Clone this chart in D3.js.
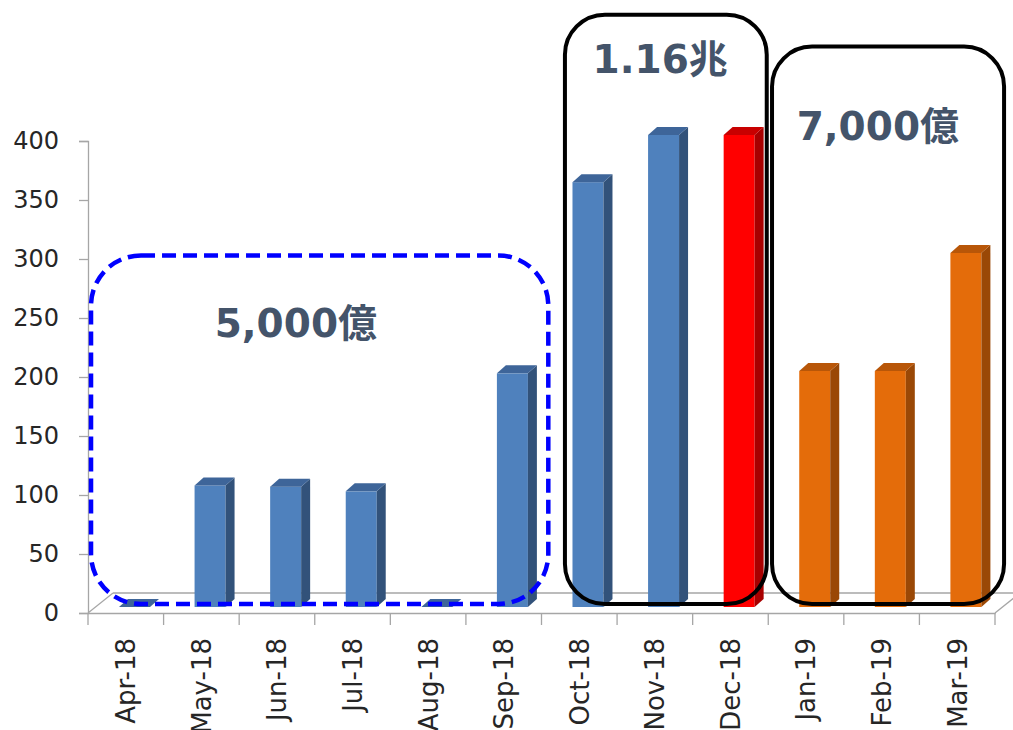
<!DOCTYPE html>
<html>
<head>
<meta charset="utf-8">
<script src="https://cdn.jsdelivr.net/npm/d3@7"></script>
<style>
  html, body { margin: 0; padding: 0; background: #fff; }
  svg { display: block; }
</style>
</head>
<body>
<svg id="chart" width="1013" height="730"></svg>
<script>
// ---- data ----
const categories = ["Apr-18","May-18","Jun-18","Jul-18","Aug-18","Sep-18","Oct-18","Nov-18","Dec-18","Jan-19","Feb-19","Mar-19"];
const values     = [0, 103, 102, 98, 0, 198, 360, 400, 400, 200, 200, 300];
const phases     = ["2018","2018","2018","2018","2018","2018","2018","2018","peak","2019","2019","2019"];
const yTicks     = [0, 50, 100, 150, 200, 250, 300, 350, 400];
const groupLabels = ["5,000億", "1.16兆", "7,000億"];
// group box extents in band units (x) and value units (y)
const groupFrom  = [0.04, 6.31, 9.05];
const groupTo    = [6.09, 8.98, 12.12];
const groupTop   = [303, 507, 480];
const groupLabelX = [2.75, 7.57, 10.45];
const groupLabelY = [234, 458, 401];

// ---- layout ----
const svg = d3.select("#chart");
const x0 = 88, x1 = 995, yBase = 613, yTop = 141;
const depthX = 25, depthY = 20;       // floor depth
const barDX = 9, barDY = 8, barLift = 6; // bar 3D offsets

const x = d3.scaleBand().domain(categories).range([x0, x1]).paddingInner(0).paddingOuter(0);
const xi = d3.scaleLinear().domain([0, categories.length]).range([x0, x1]);
const y = d3.scaleLinear().domain([0, 400]).range([yBase, yTop]);
const bw = x.bandwidth();

const faceColor = d3.scaleOrdinal().domain(["2018","peak","2019"]).range(["#4F81BD","#FF0000","#E46C0A"]);
const sideColor = d3.scaleOrdinal().domain(["2018","peak","2019"]).range(["#32527A","#A80000","#9A4806"]);
const topColor  = d3.scaleOrdinal().domain(["2018","peak","2019"]).range(["#3E6599","#C80000","#B85608"]);

const gridColor = "#A6A6A6";

// floor
const floor = svg.append("g").attr("stroke", gridColor).attr("stroke-width", 1.3).attr("fill", "none");
floor.append("line").attr("x1", x0).attr("y1", yBase).attr("x2", x0 + depthX).attr("y2", yBase - depthY);
floor.append("line").attr("x1", x0 + depthX).attr("y1", yBase - depthY).attr("x2", x1 + depthX).attr("y2", yBase - depthY);
floor.append("line").attr("x1", x1).attr("y1", yBase).attr("x2", x1 + depthX).attr("y2", yBase - depthY);

// y axis
const yAxis = d3.axisLeft(y).tickValues(yTicks).tickSize(9).tickPadding(20);
const gy = svg.append("g").attr("transform", `translate(${x0},0)`).call(yAxis);
gy.select(".domain").attr("stroke", gridColor).attr("stroke-width", 1.3);
gy.selectAll(".tick line").attr("stroke", gridColor).attr("stroke-width", 1.3);
gy.selectAll(".tick text")
  .attr("fill", "#262626")
  .style("font-family", "'DejaVu Sans', sans-serif")
  .style("font-size", "24px");

// x axis
const xAxis = d3.axisBottom(x).tickSize(0).tickPadding(0);
const gx = svg.append("g").attr("transform", `translate(0,${yBase})`).call(xAxis);
gx.select(".domain").attr("stroke", gridColor).attr("stroke-width", 1.3);
gx.selectAll(".tick text")
  .attr("fill", "#262626")
  .style("font-family", "'DejaVu Sans', sans-serif")
  .style("font-size", "26px")
  .attr("text-anchor", "end")
  .attr("transform", "translate(0,25) rotate(-90)")
  .attr("x", 0).attr("y", 0).attr("dy", "0.36em");
// boundary ticks
svg.append("g").selectAll("line")
  .data(d3.range(categories.length + 1))
  .join("line")
  .attr("x1", i => xi(i)).attr("x2", i => xi(i))
  .attr("y1", yBase).attr("y2", yBase + 12)
  .attr("stroke", gridColor).attr("stroke-width", 1.3);

// bars
const bars = svg.append("g").selectAll("g")
  .data(categories.map((c, i) => ({ c, v: values[i], p: phases[i] })))
  .join("g");

const fx = d => x(d.c) + bw * 0.41;
const fw = bw * 0.41;
const fy = d => y(d.v) - barLift;
const fb = y(0) - barLift;

bars.append("rect")
  .attr("x", fx).attr("y", fy)
  .attr("width", fw).attr("height", d => fb - fy(d))
  .attr("fill", d => faceColor(d.p));
bars.append("path")
  .attr("d", d => `M${fx(d) + fw},${fy(d)} L${fx(d) + fw + barDX},${fy(d) - barDY} L${fx(d) + fw + barDX},${fb - barDY} L${fx(d) + fw},${fb} Z`)
  .attr("fill", d => sideColor(d.p));
bars.append("path")
  .attr("d", d => `M${fx(d)},${fy(d)} L${fx(d) + barDX},${fy(d) - barDY} L${fx(d) + fw + barDX},${fy(d) - barDY} L${fx(d) + fw},${fy(d)} Z`)
  .attr("fill", d => topColor(d.p));

// group boxes
const yBoxBottom = 7.6;
const boxes = svg.append("g");
groupLabels.forEach((lab, k) => {
  const bx = xi(groupFrom[k]), bx2 = xi(groupTo[k]);
  const by = y(groupTop[k]), by2 = y(yBoxBottom);
  const r = k === 0 ? 50 : 40;
  boxes.append("rect")
    .attr("x", bx).attr("y", by)
    .attr("width", bx2 - bx).attr("height", by2 - by)
    .attr("rx", r).attr("ry", r)
    .attr("fill", "none")
    .attr("stroke", k === 0 ? "#0000FF" : "#000")
    .attr("stroke-width", k === 0 ? 4.5 : 4)
    .attr("stroke-dasharray", k === 0 ? "14,7" : null);
  boxes.append("text")
    .attr("x", xi(groupLabelX[k]))
    .attr("y", y(groupLabelY[k]))
    .attr("text-anchor", "middle")
    .attr("fill", "#44546A")
    .style("font-family", "'DejaVu Sans', 'Noto Sans CJK JP', sans-serif")
    .style("font-weight", "bold")
    .style("font-size", "39px")
    .text(lab);
});
</script>
</body>
</html>
